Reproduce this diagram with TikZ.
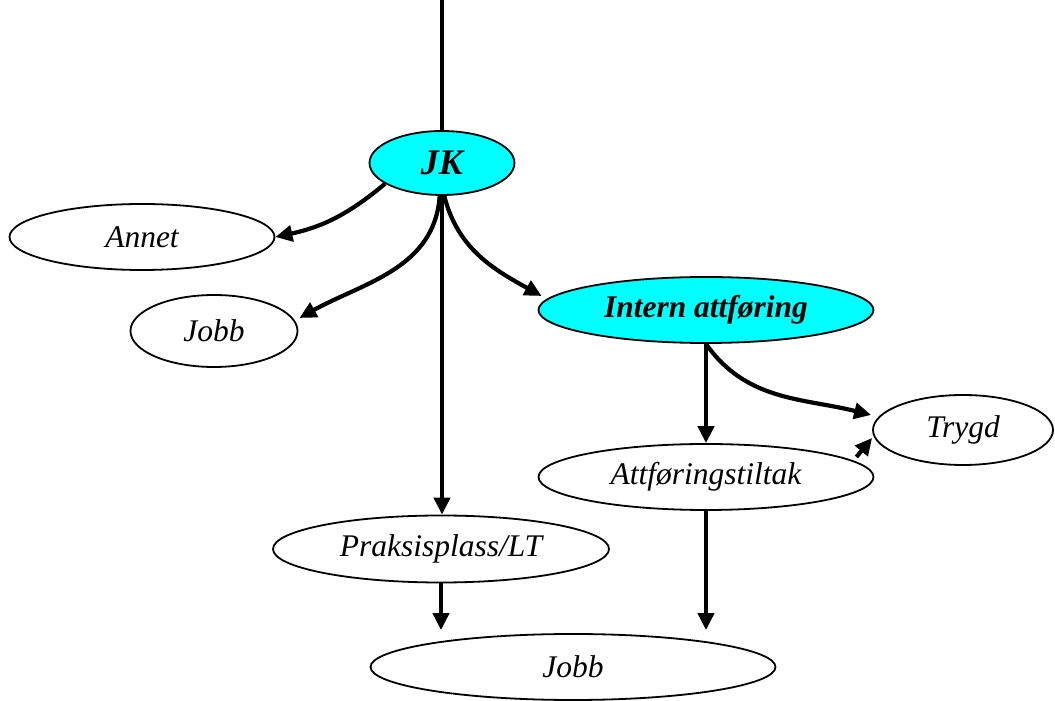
\documentclass[tikz,border=0pt]{standalone}
\usepackage{fontspec}
\setmainfont{Liberation Serif}
\usetikzlibrary{shapes.geometric,arrows.meta}
\definecolor{aqua}{RGB}{0,255,255}
\tikzset{
  oval/.style={ellipse,draw=black,line width=1.8pt,inner sep=0pt,fill=white,
    font=\fontsize{31.5}{36}\selectfont\itshape},
  hl/.style={oval,fill=aqua,font=\fontsize{31.5}{36}\selectfont\bfseries\itshape},
  conn/.style={line width=4.2pt},
  arr/.style={conn,-{Triangle[length=17pt,width=16pt]}}
}
\begin{document}
\begin{tikzpicture}[x=1pt,y=1pt]
\useasboundingbox (0,0) rectangle (1055,701);
\node[hl,minimum width=145pt,minimum height=64pt,font=\fontsize{36}{40}\selectfont\bfseries\itshape] (JK) at (442,538) {JK};
\node[oval,minimum width=265pt,minimum height=66pt] (Annet) at (142,464) {Annet};
\node[oval,minimum width=167pt,minimum height=72pt] (Jobb1) at (214,370) {Jobb};
\node[hl,minimum width=335pt,minimum height=66pt] (Intern) at (706,391) {Intern attføring};
\node[oval,minimum width=180pt,minimum height=70pt] (Trygd) at (963,271) {Trygd};
\node[oval,minimum width=335pt,minimum height=66pt] (Attf) at (706,224) {Attføringstiltak};
\node[oval,minimum width=336pt,minimum height=67pt] (Praks) at (441,152) {Praksisplass/LT};
\node[oval,minimum width=405pt,minimum height=66pt] (Jobb2) at (573,34) {Jobb};
\coordinate (top) at (442,701);

\draw[conn] (top) -- (JK.north);
\draw[arr] (JK.200) to[out=220,in=12] (Annet.east);
\draw[arr] (JK.266) to[out=266,in=29] ([shift={(1,13)}]Jobb1.east);
\draw[arr] (JK.274) to[out=284,in=151] ([shift={(4,14)}]Intern.west);
\draw[arr] (JK.south) -- (JK.south |- Praks.north);
\draw[arr] (Intern.south) -- (Attf.north);
\draw[arr] (Intern.south) to[out=305,in=166] ([shift={(-1,15)}]Trygd.west);
\draw[arr] ([shift={(-18,20)}]Attf.east) -- ([shift={(0,-8)}]Trygd.west);
\draw[arr,shorten >=3pt] (Praks.south) -- (Praks.south |- Jobb2.north);
\draw[arr,shorten >=3pt] (Attf.south) -- (Attf.south |- Jobb2.north);
\end{tikzpicture}
\end{document}
